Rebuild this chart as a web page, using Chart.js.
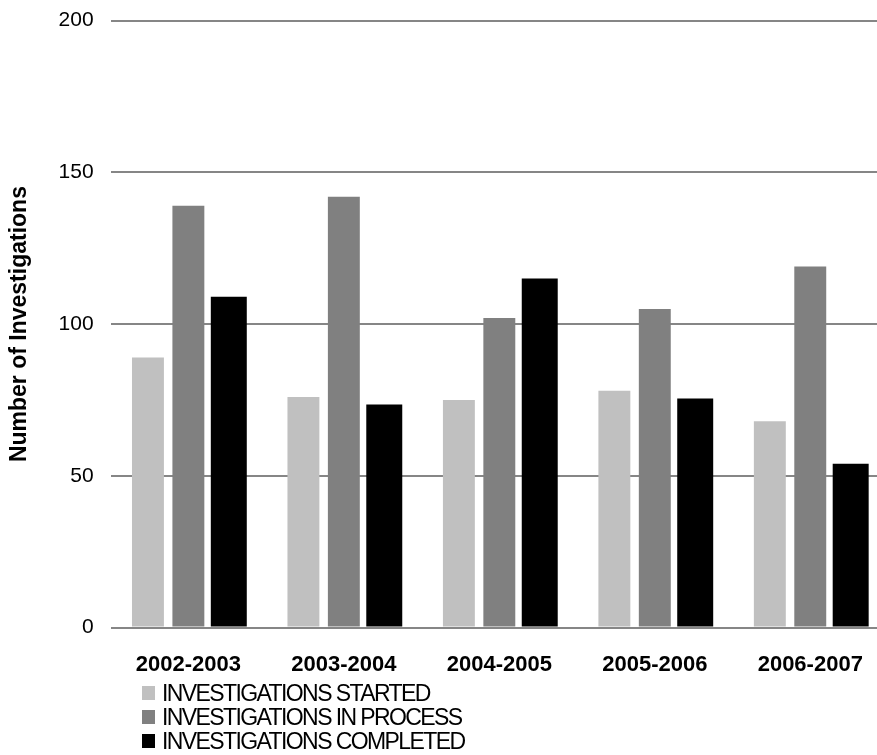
<!DOCTYPE html>
<html lang="en">
<head>
    <meta charset="UTF-8">
    <title>Number of Investigations</title>
    <script src="https://cdn.jsdelivr.net/npm/chart.js"></script>
    <style>
        body {
            margin: 0;
            background: #ffffff;
            font-family: "Liberation Sans", Arial, sans-serif;
        }
        #wrap {
            position: relative;
            width: 877px;
            height: 755px;
            overflow: hidden;
        }
        /* the category axis runs a little past the right edge, as in the original */
        #chartBox {
            position: absolute;
            left: 0;
            top: -9px;
            width: 889px;
            height: 716px;
        }
        #legend {
            position: absolute;
            left: 142px;
            top: 681px;
        }
        #legend div {
            display: flex;
            align-items: center;
            height: 24px;
            font-size: 23px;
            line-height: 24px;
            color: #000;
            letter-spacing: -1.6px;
        }
        #legend span.box {
            display: inline-block;
            width: 13px;
            height: 14px;
            margin-right: 7px;
        }
    </style>
</head>
<body>
<div id="wrap">
    <div id="chartBox"><canvas id="chart"></canvas></div>
    <div id="legend"></div>
</div>
<script>
    // data
    const years = ['2002-2003', '2003-2004', '2004-2005', '2005-2006', '2006-2007'];
    const started = [89, 76, 75, 78, 68];
    const inProcess = [139, 142, 102, 105, 119];
    const completed = [109, 73.5, 115, 75.5, 54];
    const yTicks = [0, 50, 100, 150, 200];

    const seriesNames = ['INVESTIGATIONS STARTED', 'INVESTIGATIONS IN PROCESS', 'INVESTIGATIONS COMPLETED'];
    const seriesColors = ['#c0c0c0', '#808080', '#000000'];
    const seriesData = [started, inProcess, completed];
    const barWidths = [0.79, 0.79, 0.89]; // black bars are drawn a bit wider

    const ctx = document.getElementById('chart').getContext('2d');
    const chart = new Chart(ctx, {
        type: 'bar',
        data: {
            labels: years,
            datasets: seriesData.map((d, i) => ({
                label: seriesNames[i],
                data: d,
                backgroundColor: seriesColors[i],
                borderWidth: 0,
                barPercentage: barWidths[i],
                categoryPercentage: 0.78
            }))
        },
        options: {
            responsive: true,
            maintainAspectRatio: false,
            animation: false,
            layout: {
                padding: { top: 8, right: 1, left: 6, bottom: 5 }
            },
            plugins: {
                legend: { display: false },
                tooltip: { enabled: false }
            },
            scales: {
                x: {
                    grid: { display: false, drawTicks: false },
                    border: { display: false },
                    ticks: {
                        color: '#000',
                        padding: 24,
                        font: { family: 'Liberation Sans', size: 22, weight: 'bold' }
                    }
                },
                y: {
                    min: 0,
                    max: 200,
                    afterBuildTicks: axis => {
                        axis.ticks = yTicks.map(v => ({ value: v }));
                    },
                    grid: {
                        color: '#868686',
                        lineWidth: 2,
                        drawTicks: false
                    },
                    border: { display: false },
                    ticks: {
                        color: '#000',
                        padding: 17,
                        font: { family: 'Liberation Sans', size: 21 }
                    },
                    title: {
                        display: true,
                        text: 'Number of Investigations',
                        color: '#000',
                        padding: { top: 0, bottom: 8 },
                        font: { family: 'Liberation Sans', size: 23, weight: 'bold' }
                    }
                }
            }
        }
    });

    // legend as a vertical list, like the original
    const legend = document.getElementById('legend');
    seriesNames.forEach((name, i) => {
        const row = document.createElement('div');
        const box = document.createElement('span');
        box.className = 'box';
        box.style.backgroundColor = seriesColors[i];
        row.appendChild(box);
        row.appendChild(document.createTextNode(name));
        legend.appendChild(row);
    });
</script>
</body>
</html>
